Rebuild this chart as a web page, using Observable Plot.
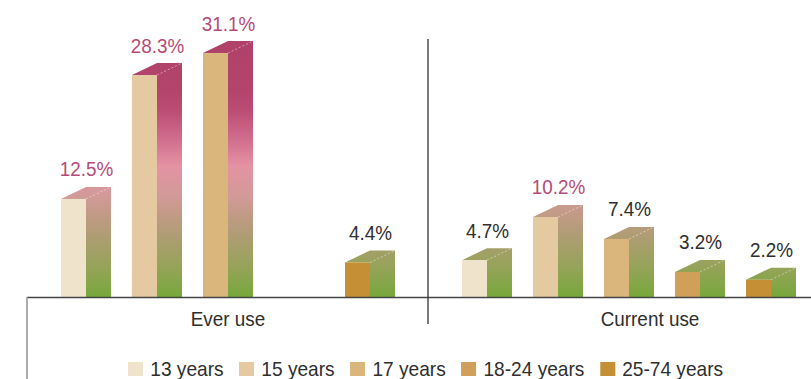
<!DOCTYPE html>
<html>
<head>
<meta charset="utf-8">
<script src="https://cdn.jsdelivr.net/npm/d3@7"></script>
<script src="https://cdn.jsdelivr.net/npm/@observablehq/plot@0.6"></script>
<style>
  html, body { margin: 0; padding: 0; background: #fff; }
  #wrap { position: relative; width: 811px; height: 379px; overflow: hidden; }
  #legend { position: absolute; left: 128px; top: 357px; transform: scaleX(0.91); transform-origin: 0 0; white-space: nowrap; }
  #legend .lg-swatches { font-family: "Liberation Sans", Arial, sans-serif !important; font-size: 21px !important; color: #2e2e2e !important; min-height: 0 !important; margin: 0 !important; flex-wrap: nowrap !important; }
  #legend .lg-swatch { margin-right: 17px !important; }
  #legend .lg-swatch svg { margin-right: 8px !important; }
</style>
</head>
<body>
<div id="wrap"><div id="legend"></div></div>
<script>
// ---- data ----
const groups = ["Ever use", "Current use"];
const ages = ["13 years", "15 years", "17 years", "18-24 years", "25-74 years"];
const everUse = [12.5, 28.3, 31.1, null, 4.4];
const currentUse = [4.7, 10.2, 7.4, 3.2, 2.2];
const ageColors = ["#efe3cb", "#e5c9a0", "#dbb67c", "#d0a05b", "#c58f36"];

const rows = [];
ages.forEach((a, i) => {
  if (everUse[i] != null) rows.push({group: groups[0], age: a, value: everUse[i]});
  if (currentUse[i] != null) rows.push({group: groups[1], age: a, value: currentUse[i]});
});

const FONT = "Liberation Sans, Arial, sans-serif";
const FS = 21;
const DEPTH = 12;

function sideRender(index, scales, values) {
  const bw = scales.x.bandwidth();
  const half = bw / 2;
  const g = d3.create("svg:g");
  for (const i of index) {
    const xl = values.x[i], xm = xl + half, xr = xl + bw;
    const yt = Math.min(values.y1[i], values.y2[i]);
    const yb = Math.max(values.y1[i], values.y2[i]);
    g.append("path")
      .attr("d", `M${xl},${yt}L${xm},${yt - DEPTH}L${xr},${yt - DEPTH}L${xr},${yb}L${xm},${yb}L${xm},${yt}Z`)
      .attr("fill", "url(#sideGrad)");
    g.append("line")
      .attr("x1", xm).attr("y1", yt).attr("x2", xr).attr("y2", yt - DEPTH)
      .attr("stroke", "#fff").attr("stroke-opacity", 0.6)
      .attr("stroke-dasharray", "2,2").attr("stroke-width", 0.8);
  }
  return g.node();
}

const chart = Plot.plot({
  width: 811,
  height: 379,
  marginLeft: 27,
  marginRight: 0,
  marginTop: 46,
  marginBottom: 82,
  style: {fontFamily: FONT, background: "#fff"},
  fx: {axis: null, domain: groups, range: [27, 829], padding: 0},
  x: {axis: null, domain: ages, paddingInner: 0.3, paddingOuter: 0.454},
  y: {axis: null, domain: [0, 32]},
  color: {type: "ordinal", domain: ages, range: ageColors},
  marks: [
    Plot.barY(rows, {fx: "group", x: "age", y1: 0, y2: "value", render: sideRender}),
    Plot.barY(rows, {fx: "group", x: "age", y1: 0, y2: "value", fill: "age", insetRight: 25}),
    Plot.ruleY([0], {stroke: "#444", strokeWidth: 1.3}),
    Plot.text(rows, {
      fx: "group", x: "age", y: "value",
      text: d => d.value.toFixed(1) + "%",
      fill: d => d.value >= 10 ? "#b54a78" : "#2e2e2e",
      lineAnchor: "bottom", dy: -23, fontSize: FS, fontFamily: FONT
    }),
    Plot.text(["Ever use"], {fx: d => d, frameAnchor: "bottom", lineAnchor: "bottom", dy: 28, text: d => d, fontSize: FS, fontFamily: FONT, fill: "#2e2e2e"}),
    Plot.text(["Current use"], {fx: d => d, frameAnchor: "bottom", lineAnchor: "bottom", dy: 28, dx: 21, text: d => d, fontSize: FS, fontFamily: FONT, fill: "#2e2e2e"})
  ]
});

// condense the text horizontally, like the reference's narrow face
d3.select(chart).selectAll("text").each(function () {
  const t = d3.select(this);
  const tr = t.attr("transform");
  if (tr) {
    t.attr("transform", tr + " scale(0.9,1)");
  } else {
    const x = +(t.attr("x") || 0);
    t.attr("transform", `translate(${x},0) scale(0.9,1) translate(${-x},0)`);
  }
});

// gradient for the side/top faces, anchored to the value scale
const ys = chart.scale("y");
const fxs = chart.scale("fx");
const svg = d3.select(chart);
const defs = svg.insert("defs", ":first-child");
const grad = defs.append("linearGradient")
  .attr("id", "sideGrad").attr("gradientUnits", "userSpaceOnUse")
  .attr("x1", 0).attr("x2", 0)
  .attr("y1", ys.apply(0)).attr("y2", ys.apply(32));
[[0.00, "#76a83a"], [0.12, "#96a35a"], [0.22, "#aa9e6e"], [0.32, "#c09a84"],
 [0.40, "#d19a98"], [0.52, "#e493a3"], [0.62, "#d27090"], [0.74, "#bc4e75"],
 [0.82, "#b3456c"], [1.00, "#b0426a"]].forEach(([o, c]) =>
  grad.append("stop").attr("offset", o).attr("stop-color", c));

// decorative frame lines
const xDiv = fxs.apply("Current use");
const xLeft = fxs.apply("Ever use");
svg.append("line").attr("x1", xDiv).attr("x2", xDiv).attr("y1", 39).attr("y2", 324)
  .attr("stroke", "#333").attr("stroke-width", 1.3);
svg.append("line").attr("x1", xLeft).attr("x2", xLeft).attr("y1", ys.apply(0)).attr("y2", 379)
  .attr("stroke", "#999").attr("stroke-width", 1.6);

document.getElementById("wrap").insertBefore(chart, document.getElementById("legend"));

const legend = Plot.legend({
  color: {type: "ordinal", domain: ages, range: ageColors},
  className: "lg", swatchWidth: 16.5, swatchHeight: 14
});
document.getElementById("legend").appendChild(legend);
</script>
</body>
</html>
